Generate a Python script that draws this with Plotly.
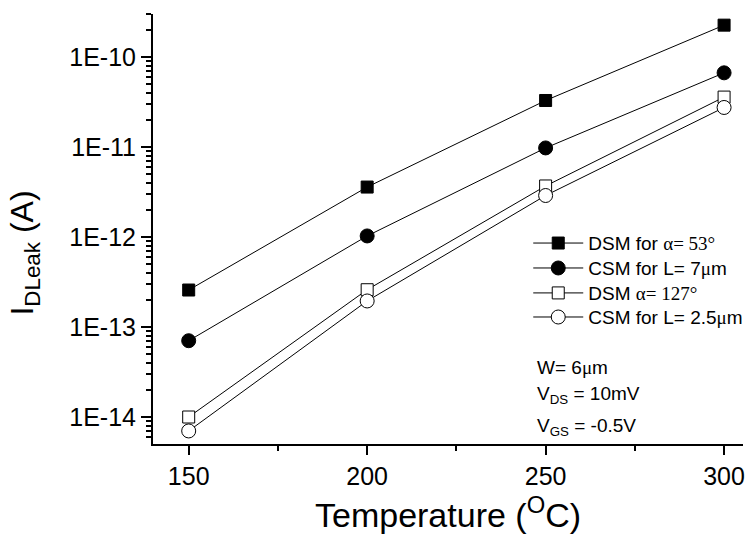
import plotly.graph_objects as go

temperature = [150, 200, 250, 300]
dsm_53 = [2.58e-13, 3.6e-12, 3.3e-11, 2.27e-10]
csm_7 = [7.05e-14, 1.03e-12, 9.8e-12, 6.7e-11]
dsm_127 = [1.0e-14, 2.6e-13, 3.7e-12, 3.6e-11]
csm_25 = [7.0e-15, 1.95e-13, 2.9e-12, 2.76e-11]

ytick_vals = [1e-14, 1e-13, 1e-12, 1e-11, 1e-10]
ytick_text = ["1E-14", "1E-13", "1E-12", "1E-11", "1E-10"]
xtick_vals = [150, 200, 250, 300]

SANS = "Arial, Liberation Sans, sans-serif"
SER = "<span style='font-family:Liberation Serif'>{}</span>"

names = [
    "DSM for " + SER.format("α= 53°"),
    "CSM for L= 7" + SER.format("μ") + "m",
    "DSM " + SER.format("α= 127°"),
    "CSM for L= 2.5" + SER.format("μ") + "m",
]
series = [dsm_53, csm_7, dsm_127, csm_25]
symbols = ["square", "circle", "square", "circle"]
fills = ["black", "black", "white", "white"]
sizes = [12, 14, 12, 14]
legend_ids = ["legend", "legend2", "legend3", "legend4"]
legend_rows_y = [0.467, 0.409, 0.351, 0.295]

fig = go.Figure()
for name, ys, sym, fc, sz, lg in zip(names, series, symbols, fills, sizes, legend_ids):
    fig.add_trace(go.Scatter(
        x=temperature, y=ys, name=name, mode="lines+markers",
        line=dict(color="black", width=1), legend=lg,
        marker=dict(symbol=sym, size=sz, color=fc, line=dict(color="black", width=1)),
    ))

legend_common = dict(xanchor="left", yanchor="middle", font=dict(size=19, family=SANS),
                     bgcolor="rgba(0,0,0,0)", itemwidth=50)
layout_legends = {}
for lg, yy in zip(legend_ids, legend_rows_y):
    layout_legends[lg] = dict(x=0.636, y=yy, **legend_common)

fig.update_layout(
    width=750, height=541,
    margin=dict(l=153, r=7, t=14, b=97, autoexpand=False),
    paper_bgcolor="white", plot_bgcolor="white",
    font=dict(family=SANS, color="black"),
    showlegend=True,
    **layout_legends,
)

fig.update_xaxes(
    range=[140, 305.3], tickvals=xtick_vals,
    showline=True, linecolor="black", linewidth=2, mirror=False,
    ticks="outside", ticklen=9, tickwidth=2, tickcolor="black",
    tickfont=dict(size=25, family=SANS),
    minor=dict(dtick=25, tick0=150, ticks="outside", ticklen=5, tickwidth=1.5, tickcolor="black"),
    showgrid=False, zeroline=False,
)
fig.update_yaxes(
    type="log", range=[-14.3, -9.52], tickvals=ytick_vals, ticktext=ytick_text,
    showline=True, linecolor="black", linewidth=2, mirror=False,
    ticks="outside", ticklen=10, tickwidth=2, tickcolor="black",
    tickfont=dict(size=25, family=SANS),
    minor=dict(dtick="D1", ticks="outside", ticklen=5, tickwidth=1.5, tickcolor="black"),
    showgrid=False, zeroline=False,
)

fig.add_annotation(
    text="Temperature (<sup>O</sup>C)", xref="paper", yref="paper",
    x=0.5, y=-0.16, xanchor="center", yanchor="middle", showarrow=False,
    font=dict(size=34, family=SANS),
)
fig.add_annotation(
    text="I<sub>DLeak</sub> (A)", xref="paper", yref="paper",
    x=-0.217, y=0.445, xanchor="center", yanchor="middle", showarrow=False,
    textangle=-90, font=dict(size=32, family=SANS),
)
fig.add_annotation(
    text="W= 6" + SER.format("μ") + "m", xref="paper", yref="paper",
    x=0.647, y=0.177, xanchor="left", yanchor="middle", showarrow=False,
    font=dict(size=19, family=SANS),
)
fig.add_annotation(
    text="V<sub>DS</sub> = 10mV", xref="paper", yref="paper",
    x=0.647, y=0.115, xanchor="left", yanchor="middle", showarrow=False,
    font=dict(size=19, family=SANS),
)
fig.add_annotation(
    text="V<sub>GS</sub> = -0.5V", xref="paper", yref="paper",
    x=0.647, y=0.04, xanchor="left", yanchor="middle", showarrow=False,
    font=dict(size=19, family=SANS),
)

fig.write_html("out.html")
